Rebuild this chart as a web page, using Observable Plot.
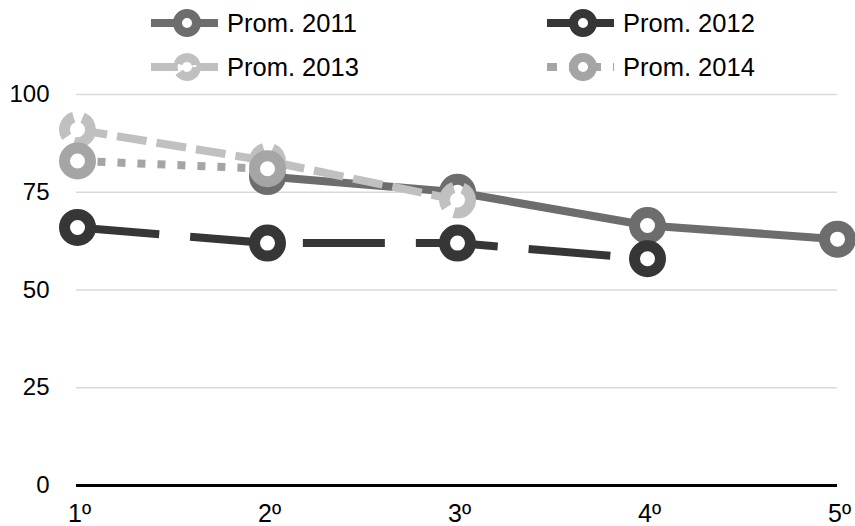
<!DOCTYPE html>
<html><head><meta charset="utf-8">
<script src="https://cdn.jsdelivr.net/npm/d3@7"></script>
<script src="https://cdn.jsdelivr.net/npm/@observablehq/plot@0.6"></script>
<style>
body{margin:0;background:#fff;font-family:"Liberation Sans",Arial,sans-serif}
#wrap{position:relative;width:855px;height:526px;overflow:hidden}
#legend{position:absolute;left:0;top:0}
#chart{position:absolute;left:0;top:80px}
</style></head>
<body>
<div id="wrap"><div id="chart"></div><div id="legend"></div></div>
<script>
const categories = ["1º","2º","3º","4º","5º"];
const seriesNames = ["Prom. 2011","Prom. 2012","Prom. 2013","Prom. 2014"];
const values2011 = [null, 79, 75, 66.5, 63];
const values2012 = [66, 62, 62, 58, null];
const values2013 = [91, 83, 73, null, null];
const values2014 = [83, 81, null, null, null];
const yTicks = [0, 25, 50, 75, 100];

const seriesValues = [values2011, values2012, values2013, values2014];
const colors = ["#6d6d6d", "#363636", "#c0c0c0", "#a5a5a5"];
const dashes = [null, "82,31", "30,10", "8,12"];
const dotDashes = [null, null, "24,9", null];

const data = [];
seriesNames.forEach((s, i) => {
  seriesValues[i].forEach((v, j) => {
    if (v != null) data.push({series: s, cat: categories[j], value: v});
  });
});

const marks = [
  Plot.gridY(yTicks.filter(d => d > 0), {stroke: "#d9d9d9", strokeOpacity: 1, strokeWidth: 1.3}),
  Plot.ruleY([0], {stroke: "#000", strokeWidth: 3}),
  Plot.axisY({ticks: yTicks, tickSize: 0, tickPadding: 27, fontSize: 24, label: null}),
  Plot.axisX({tickSize: 0, tickPadding: 19, fontSize: 25, label: null, dx: 2})
];
seriesNames.forEach((s, i) => {
  const d = data.filter(r => r.series === s);
  marks.push(Plot.line(d, {x: "cat", y: "value", stroke: colors[i], strokeWidth: 8,
    strokeDasharray: dashes[i] || undefined, strokeLinecap: "butt", strokeLinejoin: "round"}));
  marks.push(Plot.dot(d, {x: "cat", y: "value", r: 13, stroke: colors[i], strokeWidth: 11,
    fill: "white", strokeDasharray: dotDashes[i] || undefined}));
});

const chart = Plot.plot({
  width: 855, height: 446,
  marginTop: 14, marginBottom: 41, marginLeft: 76, marginRight: 18,
  style: {fontFamily: "'Liberation Sans', Arial, sans-serif", fontSize: "24px", color: "#000", background: "transparent", overflow: "visible"},
  x: {type: "point", domain: categories, padding: 0, label: null},
  y: {domain: [0, 100], label: null},
  marks
});
document.getElementById("chart").append(chart);

// Legend
const lg = d3.select("#legend").append("svg").attr("width", 855).attr("height", 90);
seriesNames.forEach((s, i) => {
  const col = i % 2, row = Math.floor(i / 2);
  const x0 = [151, 547][col], y = [23, 67][row];
  const g = lg.append("g");
  g.append("line").attr("x1", x0).attr("x2", x0 + 67).attr("y1", y).attr("y2", y)
    .attr("stroke", colors[i]).attr("stroke-width", 8)
    .attr("stroke-dasharray", i === 3 ? "10,12" : null);
  g.append("circle").attr("cx", x0 + 36).attr("cy", y).attr("r", 9.5)
    .attr("fill", "white").attr("stroke", colors[i]).attr("stroke-width", 9)
    .attr("stroke-dasharray", dotDashes[i]);
  g.append("text").attr("x", x0 + 76).attr("y", y + 9).attr("font-size", 25.5)
    .attr("font-family", "'Liberation Sans', Arial, sans-serif").attr("fill", "#000").text(s);
});
</script>
</body></html>
